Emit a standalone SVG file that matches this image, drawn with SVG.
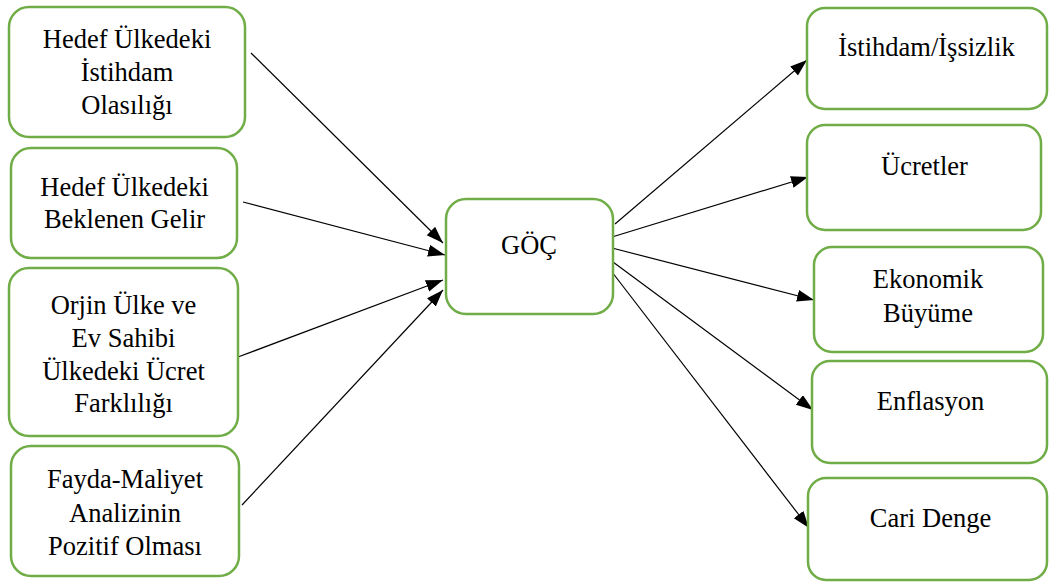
<svg xmlns="http://www.w3.org/2000/svg" width="1049" height="582" viewBox="0 0 1049 582">
<style>
.box{fill:#ffffff;stroke:#70AD47;stroke-width:2.5}
.t{font-family:'Liberation Serif','Times New Roman','DejaVu Serif',serif;font-size:26.5px;fill:#000;text-anchor:middle}
.c{stroke:#000;stroke-width:1.2;fill:none;marker-end:url(#ah)}
</style>
<defs>
<marker id="ah" markerUnits="userSpaceOnUse" markerWidth="18" markerHeight="13" refX="17" refY="6" orient="auto">
<path d="M0,0 L17,6 L0,12 z" fill="#000"/>
</marker>
</defs>
<rect width="1049" height="582" fill="#ffffff"/>
<g id="connectors">
<line class="c" x1="251" y1="53" x2="443" y2="243"/>
<line class="c" x1="243" y1="202" x2="445" y2="255"/>
<line class="c" x1="238" y1="357" x2="443" y2="280"/>
<line class="c" x1="242" y1="505" x2="443" y2="290"/>
<line class="c" x1="615" y1="224" x2="807" y2="60"/>
<line class="c" x1="612" y1="237" x2="808" y2="177"/>
<line class="c" x1="612" y1="248" x2="814" y2="300"/>
<line class="c" x1="613" y1="262" x2="813" y2="410"/>
<line class="c" x1="612" y1="272" x2="809" y2="528"/>
</g>
<g id="n1"><rect class="box" x="9" y="7" width="236" height="130" rx="20"/>
<text class="t" x="127" y="48">Hedef Ülkedeki</text><text class="t" x="127" y="81">İstihdam</text><text class="t" x="127" y="114">Olasılığı</text></g>
<g id="n2"><rect class="box" x="11" y="148" width="226" height="110" rx="20"/>
<text class="t" x="124.5" y="196">Hedef Ülkedeki</text><text class="t" x="124.5" y="228">Beklenen Gelir</text></g>
<g id="n3"><rect class="box" x="9" y="268" width="229" height="168" rx="20"/>
<text class="t" x="123.5" y="314">Orjin Ülke ve</text><text class="t" x="123.5" y="347">Ev Sahibi</text><text class="t" x="123.5" y="380">Ülkedeki Ücret</text><text class="t" x="123.5" y="412">Farklılığı</text></g>
<g id="n4"><rect class="box" x="11" y="446" width="228" height="130" rx="20"/>
<text class="t" x="125" y="488">Fayda-Maliyet</text><text class="t" x="125" y="522">Analizinin</text><text class="t" x="125" y="555">Pozitif Olması</text></g>
<g id="goc"><rect class="box" x="446" y="199" width="167" height="115" rx="20"/>
<text class="t" x="529" y="254">GÖÇ</text></g>
<g id="r1"><rect class="box" x="807" y="8" width="240" height="101" rx="18"/>
<text class="t" x="926.5" y="56">İstihdam/İşsizlik</text></g>
<g id="r2"><rect class="box" x="807" y="125" width="234" height="105" rx="18"/>
<text class="t" x="924.5" y="175">Ücretler</text></g>
<g id="r3"><rect class="box" x="814" y="247" width="229" height="105" rx="18"/>
<text class="t" x="928" y="288">Ekonomik</text><text class="t" x="928" y="322">Büyüme</text></g>
<g id="r4"><rect class="box" x="812" y="361" width="235" height="102" rx="18"/>
<text class="t" x="930.5" y="410">Enflasyon</text></g>
<g id="r5"><rect class="box" x="808" y="478" width="239" height="102" rx="18"/>
<text class="t" x="930.5" y="527">Cari Denge</text></g>
</svg>
